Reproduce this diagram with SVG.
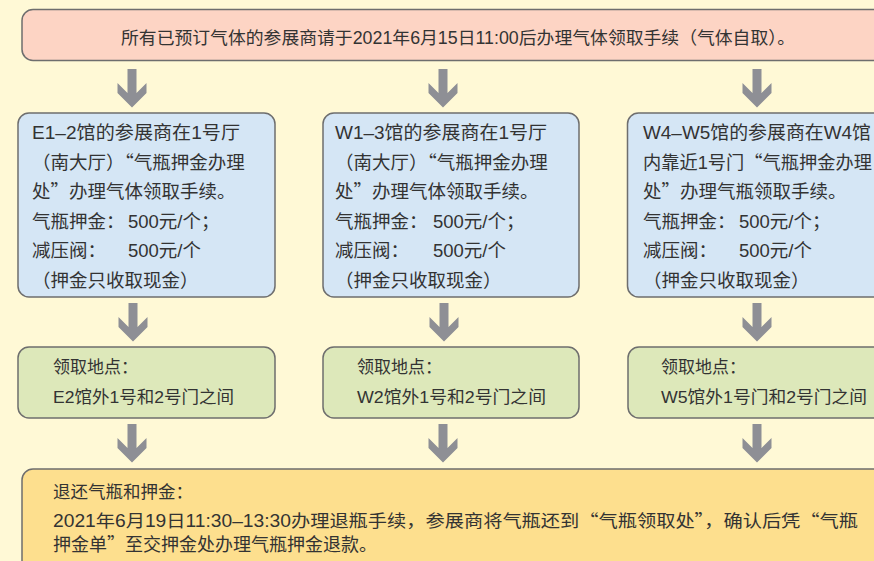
<svg xmlns="http://www.w3.org/2000/svg" width="874" height="561" viewBox="0 0 874 561">
<defs>
<style>
.box{stroke:#6e6e6e;stroke-width:1.5}
.top{fill:#FDD4C4}
.blue{fill:#D5E6F5}
.green{fill:#DDE8BA}
.yellow{fill:#FDDF8E}
.arrow{fill:#8E8F95}
text{font-family:"Liberation Sans","Noto Sans CJK SC",sans-serif;fill:#333333}
.q{font-family:"Noto Sans CJK SC",sans-serif}
.t18{font-size:18.5px}
.t17{font-size:17px}
</style>
<polygon id="arr" class="arrow" points="-4.5,0 4.5,0 4.5,24 14.5,14 14.5,24 0,38.5 -14.5,24 -14.5,14 -4.5,24"/>
</defs>
<rect width="874" height="561" fill="#FFF9D6"/>

<g id="connectors">
<use href="#arr" x="132" y="69"/>
<use href="#arr" x="443" y="69"/>
<use href="#arr" x="757" y="69"/>
<use href="#arr" x="133" y="303"/>
<use href="#arr" x="444" y="303"/>
<use href="#arr" x="757" y="303"/>
<use href="#arr" x="132" y="424"/>
<use href="#arr" x="443" y="424"/>
<use href="#arr" x="757" y="424"/>
</g>

<g id="top">
<rect class="box top" x="22" y="9.5" width="880" height="51" rx="11"/>
<text x="121" y="43.5" style="font-size:17.5px" textLength="674" lengthAdjust="spacingAndGlyphs">所有已预订气体的参展商请于2021年6月15日11:00后办理气体领取手续（气体自取）。</text>
</g>

<g id="e12">
<rect class="box blue" x="18" y="113" width="257" height="184" rx="11"/>
<text class="t18" x="32" y="139" textLength="208" lengthAdjust="spacingAndGlyphs">E1–2馆的参展商在1号厅</text>
<text class="t18" x="32" y="168.5">（南大厅）<tspan class="q">“</tspan>气瓶押金办理</text>
<text class="t18" x="32" y="198">处<tspan class="q">”</tspan>办理气体领取手续。</text>
<text class="t18" x="32" y="227.5">气瓶押金：</text><text class="t18" x="128" y="227.5">500元/个；</text>
<text class="t18" x="32" y="257">减压阀：</text><text class="t18" x="128" y="257">500元/个</text>
<text class="t18" x="32" y="286.5">（押金只收取现金）</text>
</g>

<g id="w13">
<rect class="box blue" x="323" y="113" width="256" height="184" rx="11"/>
<text class="t18" x="335" y="139" textLength="212" lengthAdjust="spacingAndGlyphs">W1–3馆的参展商在1号厅</text>
<text class="t18" x="335" y="168.5">（南大厅）<tspan class="q">“</tspan>气瓶押金办理</text>
<text class="t18" x="335" y="198">处<tspan class="q">”</tspan>办理气体领取手续。</text>
<text class="t18" x="335" y="227.5">气瓶押金：</text><text class="t18" x="433" y="227.5">500元/个；</text>
<text class="t18" x="335" y="257">减压阀：</text><text class="t18" x="433" y="257">500元/个</text>
<text class="t18" x="335" y="286.5">（押金只收取现金）</text>
</g>

<g id="w45">
<rect class="box blue" x="627.5" y="113" width="270" height="184" rx="11"/>
<text class="t18" x="643" y="139" textLength="228" lengthAdjust="spacingAndGlyphs">W4–W5馆的参展商在W4馆</text>
<text class="t18" x="643" y="168.5" textLength="229" lengthAdjust="spacingAndGlyphs">内靠近1号门<tspan class="q">“</tspan>气瓶押金办理</text>
<text class="t18" x="643" y="198">处<tspan class="q">”</tspan>办理气瓶领取手续。</text>
<text class="t18" x="643" y="227.5">气瓶押金：</text><text class="t18" x="739" y="227.5">500元/个；</text>
<text class="t18" x="643" y="257">减压阀：</text><text class="t18" x="739" y="257">500元/个</text>
<text class="t18" x="643" y="286.5">（押金只收取现金）</text>
</g>

<g id="loc1">
<rect class="box green" x="18" y="347" width="257" height="71" rx="11"/>
<text class="t17" x="53" y="373">领取地点：</text>
<text class="t17" x="53" y="403" textLength="181" lengthAdjust="spacingAndGlyphs">E2馆外1号和2号门之间</text>
</g>

<g id="loc2">
<rect class="box green" x="323" y="347" width="256" height="71" rx="11"/>
<text class="t17" x="357" y="373">领取地点：</text>
<text class="t17" x="357" y="403" textLength="189" lengthAdjust="spacingAndGlyphs">W2馆外1号和2号门之间</text>
</g>

<g id="loc3">
<rect class="box green" x="628" y="347" width="270" height="71" rx="11"/>
<text class="t17" x="661" y="373">领取地点：</text>
<text class="t17" x="661" y="403" textLength="206" lengthAdjust="spacingAndGlyphs">W5馆外1号门和2号门之间</text>
</g>

<g id="return">
<rect class="box yellow" x="22" y="469" width="880" height="120" rx="11"/>
<text class="t18" x="53" y="498" style="font-size:17.5px">退还气瓶和押金：</text>
<text class="t18" x="53" y="527" style="font-size:17.5px" textLength="805" lengthAdjust="spacingAndGlyphs">2021年6月19日11:30–13:30办理退瓶手续，参展商将气瓶还到<tspan class="q">“</tspan>气瓶领取处<tspan class="q">”</tspan>，确认后凭<tspan class="q">“</tspan>气瓶</text>
<text class="t18" x="53" y="551" style="font-size:18px">押金单<tspan class="q">”</tspan>至交押金处办理气瓶押金退款。</text>
</g>
</svg>
